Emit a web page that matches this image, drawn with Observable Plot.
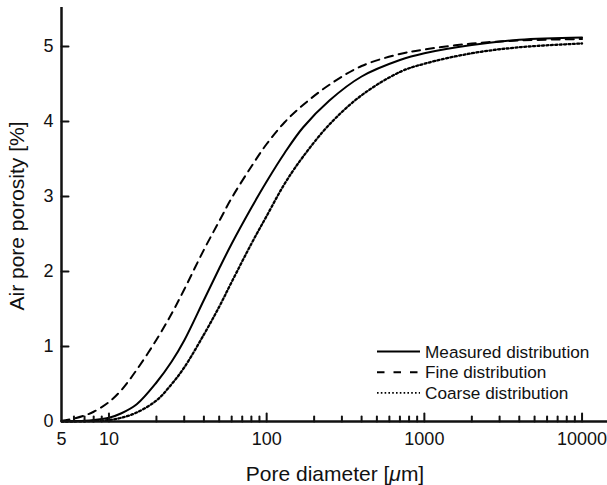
<!DOCTYPE html>
<html>
<head>
<meta charset="utf-8">
<script src="https://cdn.jsdelivr.net/npm/d3@7"></script>
<script src="https://cdn.jsdelivr.net/npm/@observablehq/plot@0.6"></script>
<style>
  html, body { margin: 0; padding: 0; background: #fff; }
  #chart svg { display: block; }
</style>
</head>
<body>
<div id="chart"></div>
<script>
// Pore diameter grid [µm]
const diameters = [5, 6, 7, 8, 10, 12, 15, 20, 25, 30, 40, 50, 60, 80, 100, 130, 170, 250, 400, 700, 1000, 2000, 4000, 10000];
// Air pore porosity [%]
const measured = [0, 0.005, 0.01, 0.02, 0.05, 0.11, 0.23, 0.52, 0.80, 1.08, 1.62, 2.04, 2.37, 2.85, 3.20, 3.58, 3.92, 4.28, 4.60, 4.82, 4.91, 5.02, 5.09, 5.12];
const fine     = [0.01, 0.04, 0.08, 0.13, 0.26, 0.42, 0.69, 1.09, 1.44, 1.76, 2.29, 2.67, 2.98, 3.40, 3.70, 3.99, 4.22, 4.49, 4.74, 4.90, 4.96, 5.04, 5.08, 5.10];
const coarse   = [0, 0, 0.003, 0.006, 0.02, 0.05, 0.12, 0.28, 0.50, 0.72, 1.16, 1.53, 1.86, 2.37, 2.74, 3.17, 3.53, 3.96, 4.35, 4.66, 4.77, 4.91, 4.99, 5.04];

const seriesNames = ["Measured distribution", "Fine distribution", "Coarse distribution"];
const xTickLabels = [5, 10, 100, 1000, 10000];
const xMajorTicks = [10, 100, 1000, 10000];
const xMinorTicks = [6, 7, 8, 9, 20, 30, 40, 50, 60, 70, 80, 90, 200, 300, 400, 500, 600, 700, 800, 900, 2000, 3000, 4000, 5000, 6000, 7000, 8000, 9000];
const yTicks = [0, 1, 2, 3, 4, 5];

const toRows = (vals) => diameters.map((d, i) => ({d, v: vals[i]}));
const tickShape = {draw(ctx, l) { ctx.moveTo(0, 0); ctx.lineTo(0, -l); }};
const FONT = "'Liberation Sans', Arial, Helvetica, sans-serif";

const chart = Plot.plot({
  width: 607,
  height: 485,
  marginLeft: 61,
  marginRight: 0,
  marginTop: 7,
  marginBottom: 64,
  x: {type: "log", domain: [5, 14500], axis: null},
  y: {domain: [0, 5.52], axis: null},
  style: {fontFamily: FONT, background: "#fff", color: "#111"},
  marks: [
    Plot.line(toRows(measured), {x: "d", y: "v", stroke: "#000", strokeWidth: 2, curve: "catmull-rom"}),
    Plot.line(toRows(fine), {x: "d", y: "v", stroke: "#000", strokeWidth: 2, strokeDasharray: "8,6", curve: "catmull-rom"}),
    Plot.line(toRows(coarse), {x: "d", y: "v", stroke: "#000", strokeWidth: 2.3, strokeDasharray: "2,2.4", curve: "catmull-rom"}),
    Plot.ruleX([5], {stroke: "#111", strokeWidth: 2.5}),
    Plot.ruleY([0], {stroke: "#111", strokeWidth: 2.5}),
    Plot.vector(xMajorTicks, {x: d => d, y: () => 0, length: 8, rotate: 0, anchor: "start", shape: tickShape, stroke: "#111", strokeWidth: 2}),
    Plot.vector(xMinorTicks, {x: d => d, y: () => 0, length: 5, rotate: 0, anchor: "start", shape: tickShape, stroke: "#111", strokeWidth: 2}),
    Plot.vector(yTicks.filter(t => t > 0), {x: () => 5, y: d => d, length: 7, rotate: 90, anchor: "start", shape: tickShape, stroke: "#111", strokeWidth: 2}),
    Plot.text(xTickLabels, {x: d => d, y: () => 0, text: d => String(d), dy: 18, fontSize: 18, fill: "#111", lineAnchor: "middle"}),
    Plot.text(yTicks, {x: () => 5, y: d => d, text: d => String(d), dx: -8, textAnchor: "end", fontSize: 18, fill: "#111", lineAnchor: "middle"})
  ]
});

document.getElementById("chart").appendChild(chart);

const svg = d3.select(chart);
// Axis titles
const xt = svg.append("text")
  .attr("x", 335).attr("y", 481)
  .attr("text-anchor", "middle")
  .attr("font-size", 21).attr("font-family", FONT).attr("fill", "#111");
xt.append("tspan").text("Pore diameter [");
xt.append("tspan").attr("font-style", "italic").text("μ");
xt.append("tspan").text("m]");

svg.append("text")
  .attr("transform", "translate(17,216) rotate(-90)")
  .attr("dy", "0.35em")
  .attr("text-anchor", "middle")
  .attr("font-size", 21).attr("font-family", FONT).attr("fill", "#111")
  .text("Air pore porosity [%]");

// Legend
const legendDash = {"Measured distribution": null, "Fine distribution": "7.5,9", "Coarse distribution": "1.6,2.2"};
const legendWidth = {"Measured distribution": 2, "Fine distribution": 2, "Coarse distribution": 1.7};
const lg = svg.append("g").attr("text-anchor", "start");
seriesNames.forEach((name, i) => {
  const y = 351.5 + i * 20.7;
  lg.append("line")
    .attr("x1", 377).attr("x2", 420).attr("y1", y).attr("y2", y)
    .attr("stroke", "#000").attr("stroke-width", legendWidth[name])
    .attr("stroke-dasharray", legendDash[name]);
  lg.append("text")
    .attr("x", 425).attr("y", y).attr("dy", "0.35em")
    .attr("text-anchor", "start")
    .attr("font-size", 17.2).attr("font-family", FONT).attr("fill", "#111")
    .text(name);
});
</script>
</body>
</html>
